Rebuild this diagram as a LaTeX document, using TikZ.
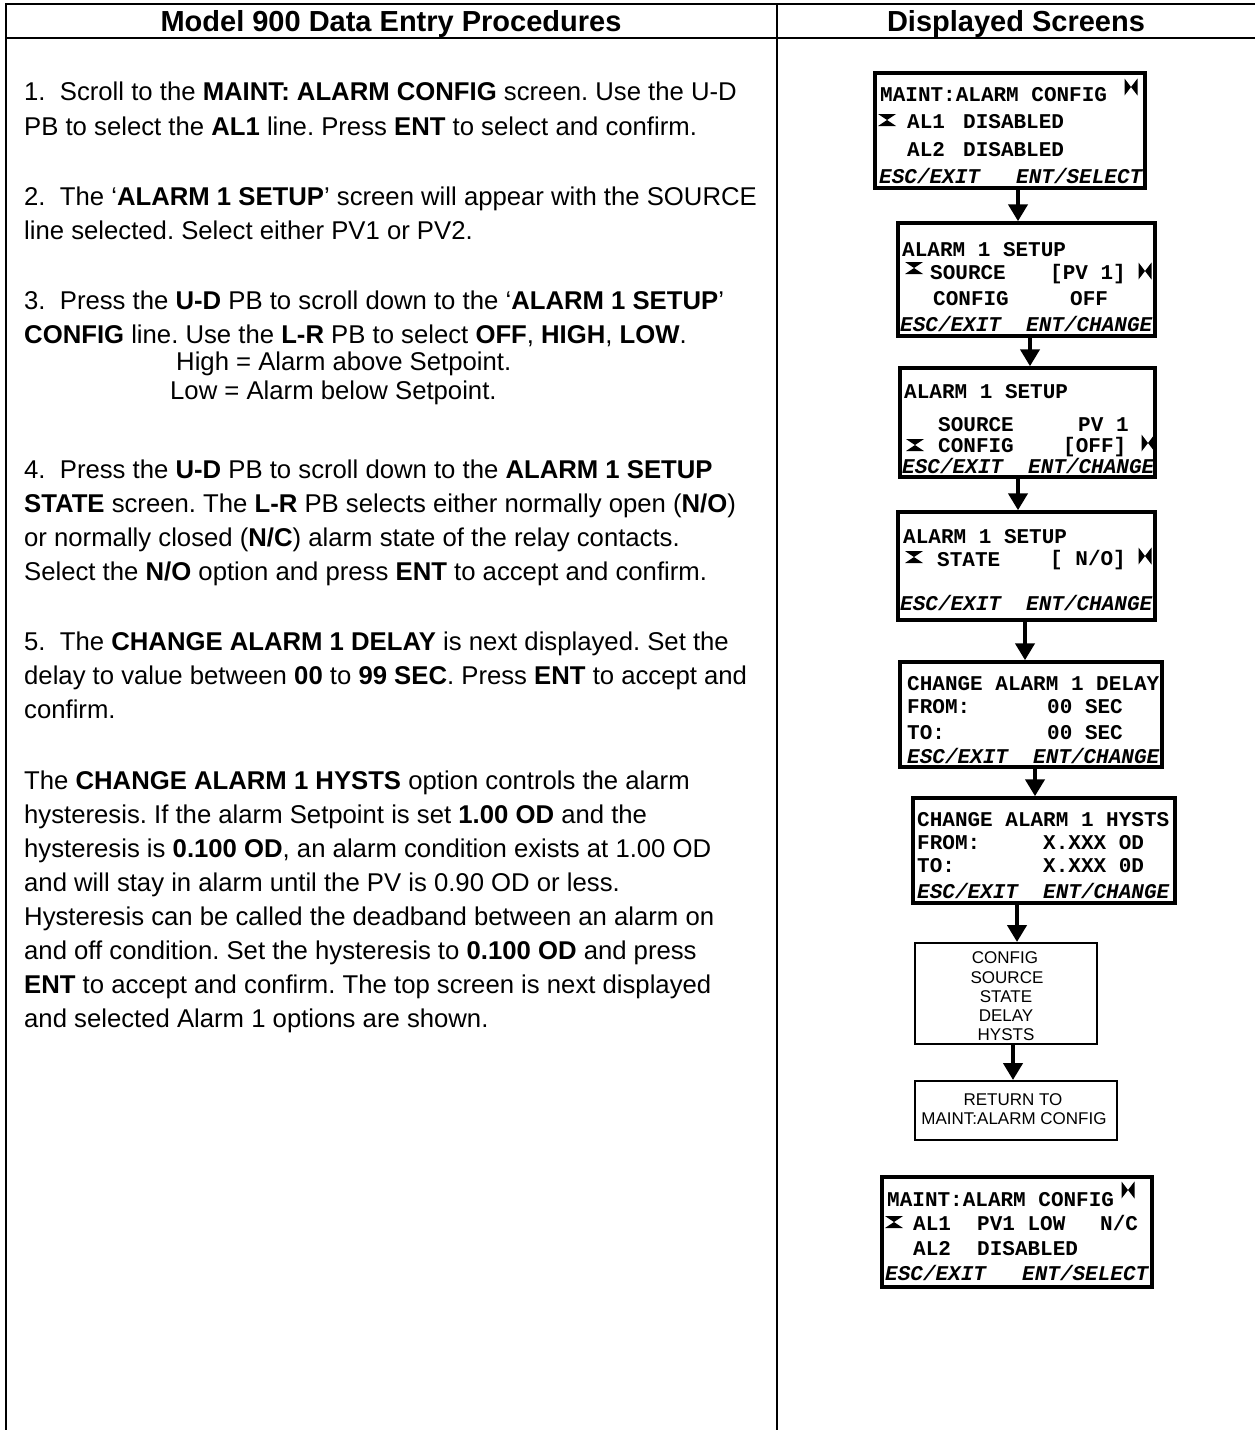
\documentclass[tikz,border=0pt]{standalone}
\usepackage{fontspec}
\setmainfont{Liberation Sans}
\newfontfamily\lcdfont{Liberation Mono}
\usetikzlibrary{arrows.meta}
\frenchspacing
\begin{document}
\begin{tikzpicture}[x=1pt,y=-1pt,
  tbl/.style={line width=2.5pt},
  hdr/.style={inner sep=0pt, font=\bfseries\fontsize{29}{33}\selectfont, text height=20.8pt, text depth=0pt},
  txt/.style={anchor=west, inner sep=0pt, font=\fontsize{25.7}{30}\selectfont, text height=18.4pt, text depth=0pt},
  lcd/.style={anchor=west, inner sep=0pt, font=\lcdfont\bfseries\fontsize{21}{24}\selectfont, text height=12pt, text depth=0pt},
  lcdit/.style={lcd, font=\lcdfont\bfseries\itshape\fontsize{21}{24}\selectfont},
  screen/.style={draw, line width=3.5pt, inner sep=0pt},
  plainbox/.style={draw, line width=2pt, inner sep=0pt},
  small/.style={inner sep=0pt, font=\fontsize{17}{19}\selectfont, text height=12.3pt, text depth=0pt},
  arr/.style={line width=4.5pt, -{Triangle[width=19pt,length=17pt]}},
  hglass/.pic={\fill (-9,-6) -- (9,-6) -- (0,0) -- cycle (-9,6) -- (9,6) -- (0,0) -- cycle;},
  bowtie/.pic={\fill (-6.5,-8.5) -- (-6.5,8.5) -- (0,0) -- cycle (6.5,-8.5) -- (6.5,8.5) -- (0,0) -- cycle;}
]
\useasboundingbox (0,0) rectangle (1255,1430);
\fill[white] (0,0) rectangle (1255,1430);

% table
\draw[tbl] (5,4) -- (1255,4);
\draw[tbl] (5,38) -- (1255,38);
\draw[tbl] (6,3) -- (6,1430);
\draw[tbl] (777,3) -- (777,1430);
\node[hdr] (h1) at (391,21) {Model 900 Data Entry Procedures};
\node[hdr] (h2) at (1016,21) {Displayed Screens};

% left text
\node[txt] (p1a) at (24,91) {1.\ \ Scroll to the \textbf{MAINT: ALARM CONFIG} screen. Use the U-D};
\node[txt] (p1b) at (24,126) {PB to select the \textbf{AL1} line. Press \textbf{ENT} to select and confirm.};
\node[txt] (p2a) at (24,196) {2.\ \ The ‘\textbf{ALARM 1 SETUP}’ screen will appear with the SOURCE};
\node[txt] (p2b) at (24,230) {line selected. Select either PV1 or PV2.};
\node[txt] (p3a) at (24,300) {3.\ \ Press the \textbf{U-D} PB to scroll down to the ‘\textbf{ALARM 1 SETUP}’};
\node[txt] (p3b) at (24,334) {\textbf{CONFIG} line. Use the \textbf{L-R} PB to select \textbf{OFF}, \textbf{HIGH}, \textbf{LOW}.};
\node[txt] (p3c) at (176,361) {High = Alarm above Setpoint.};
\node[txt] (p3d) at (170,390) {Low = Alarm below Setpoint.};
\node[txt] (p4a) at (24,469) {4.\ \ Press the \textbf{U-D} PB to scroll down to the \textbf{ALARM 1 SETUP}};
\node[txt] (p4b) at (24,503) {\textbf{STATE} screen. The \textbf{L-R} PB selects either normally open (\textbf{N/O})};
\node[txt] (p4c) at (24,537) {or normally closed (\textbf{N/C}) alarm state of the relay contacts.};
\node[txt] (p4d) at (24,571) {Select the \textbf{N/O} option and press \textbf{ENT} to accept and confirm.};
\node[txt] (p5a) at (24,641) {5.\ \ The \textbf{CHANGE ALARM 1 DELAY} is next displayed. Set the};
\node[txt] (p5b) at (24,675) {delay to value between \textbf{00} to \textbf{99 SEC}. Press \textbf{ENT} to accept and};
\node[txt] (p5c) at (24,709) {confirm.};
\node[txt] (p6a) at (24,780) {The \textbf{CHANGE ALARM 1 HYSTS} option controls the alarm};
\node[txt] (p6b) at (24,814) {hysteresis. If the alarm Setpoint is set \textbf{1.00 OD} and the};
\node[txt] (p6c) at (24,848) {hysteresis is \textbf{0.100 OD}, an alarm condition exists at 1.00 OD};
\node[txt] (p6d) at (24,882) {and will stay in alarm until the PV is 0.90 OD or less.};
\node[txt] (p6e) at (24,916) {Hysteresis can be called the deadband between an alarm on};
\node[txt] (p6f) at (24,950) {and off condition. Set the hysteresis to \textbf{0.100 OD} and press};
\node[txt] (p6g) at (24,984) {\textbf{ENT} to accept and confirm. The top screen is next displayed};
\node[txt] (p6h) at (24,1018) {and selected Alarm 1 options are shown.};

% screen 1
\node[screen, minimum width=270pt, minimum height=115pt] (s1) at (1010,130.5) {};
\node[lcd] (s1a) at (880,95) {MAINT:ALARM CONFIG};
\pic at (1131,87) {bowtie};
\pic at (887,120) {hglass};
\node[lcd] (s1b) at (907,122) {AL1};
\node[lcd] (s1c) at (963,122) {DISABLED};
\node[lcd] (s1d) at (907,150) {AL2};
\node[lcd] (s1e) at (963,150) {DISABLED};
\node[lcdit] (s1f) at (879,177) {ESC/EXIT};
\node[lcdit] (s1g) at (1016,177) {ENT/SELECT};

% screen 2
\node[screen, minimum width=257pt, minimum height=113pt] (s2) at (1026.5,279.5) {};
\node[lcd] (s2a) at (902,250) {ALARM 1 SETUP};
\pic at (914,268) {hglass};
\node[lcd] (s2b) at (930,273) {SOURCE};
\node[lcd] (s2c) at (1050,273) {[PV 1]};
\pic at (1145,271) {bowtie};
\node[lcd] (s2d) at (933,299) {CONFIG};
\node[lcd] (s2e) at (1070,299) {OFF};
\node[lcdit] (s2f) at (900,325) {ESC/EXIT};
\node[lcdit] (s2g) at (1026,325) {ENT/CHANGE};

% screen 3
\node[screen, minimum width=255pt, minimum height=109pt] (s3) at (1027.5,422.5) {};
\node[lcd] (s3a) at (904,392) {ALARM 1 SETUP};
\node[lcd] (s3b) at (938,425) {SOURCE};
\node[lcd] (s3c) at (1078,425) {PV 1};
\pic at (915,445) {hglass};
\node[lcd] (s3d) at (938,446) {CONFIG};
\node[lcd] (s3e) at (1063,446) {[OFF]};
\pic at (1148,443) {bowtie};
\node[lcdit] (s3f) at (902,467) {ESC/EXIT};
\node[lcdit] (s3g) at (1028,467) {ENT/CHANGE};

% screen 4
\node[screen, minimum width=257pt, minimum height=108pt] (s4) at (1026.5,566) {};
\node[lcd] (s4a) at (903,537) {ALARM 1 SETUP};
\pic at (914,557) {hglass};
\node[lcd] (s4b) at (937,560) {STATE};
\node[lcd] (s4c) at (1050,559) {[ N/O]};
\pic at (1145,556) {bowtie};
\node[lcdit] (s4d) at (900,604) {ESC/EXIT};
\node[lcdit] (s4e) at (1026,604) {ENT/CHANGE};

% screen 5
\node[screen, minimum width=262pt, minimum height=105pt] (s5) at (1031,714.5) {};
\node[lcd] (s5a) at (907,684) {CHANGE ALARM 1 DELAY};
\node[lcd] (s5b) at (907,707) {FROM:};
\node[lcd] (s5c) at (1047,707) {00 SEC};
\node[lcd] (s5d) at (907,733) {TO:};
\node[lcd] (s5e) at (1047,733) {00 SEC};
\node[lcdit] (s5f) at (907,757) {ESC/EXIT};
\node[lcdit] (s5g) at (1033,757) {ENT/CHANGE};

% screen 6
\node[screen, minimum width=262pt, minimum height=105pt] (s6) at (1044,850.5) {};
\node[lcd] (s6a) at (917,820) {CHANGE ALARM 1 HYSTS};
\node[lcd] (s6b) at (917,843) {FROM:};
\node[lcd] (s6c) at (1043,843) {X.XXX OD};
\node[lcd] (s6d) at (917,866) {TO:};
\node[lcd] (s6e) at (1043,866) {X.XXX 0D};
\node[lcdit] (s6f) at (917,892) {ESC/EXIT};
\node[lcdit] (s6g) at (1043,892) {ENT/CHANGE};

% box 7
\node[plainbox, minimum width=182pt, minimum height=101pt] (b7) at (1006,993.5) {};
\node[small] (b7a) at (1005,957) {CONFIG};
\node[small] (b7b) at (1007,977) {SOURCE};
\node[small] (b7c) at (1006,996) {STATE};
\node[small] (b7d) at (1006,1015) {DELAY};
\node[small] (b7e) at (1006,1034) {HYSTS};

% box 8
\node[plainbox, minimum width=202pt, minimum height=59pt] (b8) at (1016,1110.5) {};
\node[small] (b8a) at (1013,1099) {RETURN TO};
\node[small] (b8b) at (1014,1118) {MAINT:ALARM CONFIG};

% screen 9
\node[screen, minimum width=270pt, minimum height=110pt] (s9) at (1017,1232) {};
\node[lcd] (s9a) at (887,1200) {MAINT:ALARM CONFIG};
\pic at (1128,1190) {bowtie};
\pic at (894,1222) {hglass};
\node[lcd] (s9b) at (913,1224) {AL1};
\node[lcd] (s9c) at (977,1224) {PV1 LOW};
\node[lcd] (s9d) at (1100,1224) {N/C};
\node[lcd] (s9e) at (913,1249) {AL2};
\node[lcd] (s9f) at (977,1249) {DISABLED};
\node[lcdit] (s9g) at (885,1274) {ESC/EXIT};
\node[lcdit] (s9h) at (1022,1274) {ENT/SELECT};

% arrows
\coordinate (x1) at (1018,0);
\coordinate (x2) at (1030,0);
\coordinate (x3) at (1018,0);
\coordinate (x4) at (1025,0);
\coordinate (x5) at (1035,0);
\coordinate (x6) at (1017,0);
\coordinate (x7) at (1013,0);
\draw[arr] (s1.south -| x1) -- (s2.north -| x1);
\draw[arr] (s2.south -| x2) -- (s3.north -| x2);
\draw[arr] (s3.south -| x3) -- (s4.north -| x3);
\draw[arr] (s4.south -| x4) -- (s5.north -| x4);
\draw[arr] (s5.south -| x5) -- (s6.north -| x5);
\draw[arr] (s6.south -| x6) -- (b7.north -| x6);
\draw[arr] (b7.south -| x7) -- (b8.north -| x7);
\end{tikzpicture}
\end{document}
